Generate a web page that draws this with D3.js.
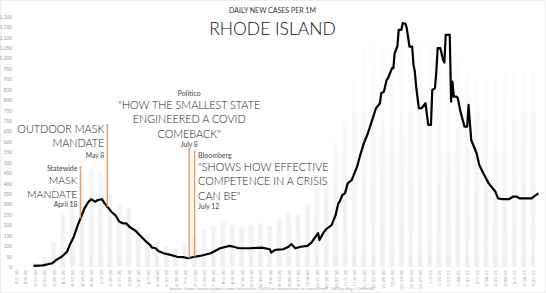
<!DOCTYPE html>
<html>
<head>
<meta charset="utf-8">
<script src="https://cdn.jsdelivr.net/npm/d3@7"></script>
<style>
  body { margin: 0; background: #fff; }
  svg { display: block; font-family: Lato, 'Open Sans', sans-serif; }
</style>
</head>
<body>
<svg id="chart" width="546" height="293"></svg>
<script>
// 14 day average, daily new cases per 1M
const dates = ['3/14/20','3/21/20','3/28/20','3/31/20','4/4/20','4/8/20','4/10/20','4/13/20','4/16/20','4/19/20',
  '4/21/20','4/24/20','4/26/20','4/29/20','5/1/20','5/4/20','5/6/20','5/9/20','5/11/20','5/14/20',
  '5/17/20','5/20/20','5/22/20','5/25/20','5/29/20','6/1/20','6/6/20','6/9/20','6/10/20','6/13/20',
  '6/15/20','6/19/20','6/24/20','6/29/20','7/4/20','7/7/20','7/12/20','7/16/20','7/24/20','7/31/20',
  '8/7/20','8/10/20','8/14/20','8/22/20','8/31/20','9/6/20','9/7/20','9/10/20','9/16/20','9/20/20',
  '9/22/20','9/25/20','9/29/20','10/4/20','10/7/20','10/10/20','10/12/20','10/13/20','10/16/20','10/18/20',
  '10/22/20','10/25/20','10/27/20','10/28/20','10/30/20','11/1/20','11/3/20','11/6/20','11/10/20','11/12/20',
  '11/15/20','11/16/20','11/18/20','11/20/20','11/22/20','11/24/20','11/27/20','11/28/20','11/30/20','12/2/20',
  '12/3/20','12/6/20','12/7/20','12/8/20','12/10/20','12/11/20','12/13/20','12/14/20','12/16/20','12/17/20',
  '12/19/20','12/21/20','12/22/20','12/23/20','12/24/20','12/26/20','12/28/20','12/31/20','1/1/21','1/2/21',
  '1/4/21','1/5/21','1/7/21','1/8/21','1/9/21','1/11/21','1/13/21','1/14/21','1/15/21','1/18/21',
  '1/19/21','1/20/21','1/21/21','1/23/21','1/24/21','1/26/21','1/29/21','1/31/21','2/1/21','2/3/21',
  '2/6/21','2/7/21','2/9/21','2/12/21','2/14/21','2/16/21','2/18/21','2/21/21','2/22/21','2/23/21',
  '2/26/21','3/3/21','3/6/21','3/9/21','3/11/21','3/20/21','3/22/21','3/25/21'];
const cases = [5,8,18,34,49,73,105,145,201,249,
  281,313,325,313,321,325,305,281,265,249,
  217,209,209,190,174,153,121,105,94,90,
  77,66,58,49,47,42,49,53,66,90,
  101,97,90,90,93,85,69,82,85,97,
  110,90,97,101,117,145,162,129,165,181,
  201,249,305,313,345,353,401,417,481,529,
  593,609,640,680,720,760,785,833,841,897,
  905,953,953,1025,1057,1137,1137,1169,1166,1145,
  1057,1057,969,937,865,761,761,785,729,681,
  681,849,857,937,1049,1049,993,980,1113,1113,
  793,889,817,817,809,745,673,673,777,609,
  561,545,489,449,425,401,385,361,345,329,
  325,325,337,337,329,329,340,353];

// faint background bars: highest daily report of each week
const barWeeks = ['3/1/20','3/8/20','3/15/20','3/22/20','3/29/20','4/5/20','4/12/20','4/19/20','4/26/20','5/3/20',
  '5/10/20','5/17/20','5/24/20','5/31/20','6/7/20','6/14/20','6/21/20','6/28/20','7/5/20','7/12/20',
  '7/19/20','7/26/20','8/2/20','8/9/20','8/16/20','8/23/20','8/30/20','9/6/20','9/13/20','9/20/20',
  '9/27/20','10/4/20','10/11/20','10/18/20','10/25/20','11/1/20','11/8/20','11/15/20','11/22/20','11/29/20',
  '12/6/20','12/13/20','12/20/20','12/27/20','1/3/21','1/10/21','1/17/21','1/24/21','1/31/21','2/7/21',
  '2/14/21','2/21/21','2/28/21','3/7/21','3/14/21','3/21/21'];
const barValues = [0,5,20,50,120,250,380,450,470,450,
  350,300,280,200,160,120,100,90,110,150,
  180,200,220,200,190,200,210,200,230,260,
  250,300,380,420,600,700,900,1050,1150,1250,
  1250,1250,1200,1100,1200,1250,1100,1000,950,900,
  900,900,950,950,950,950];

const yTicks = [0,50,100,150,200,250,300,350,400,450,500,550,600,650,700,750,800,850,900,950,1000,1050,1100,1150,1200];

const parse = d3.timeParse('%-m/%-d/%y');
const fmt = d3.timeFormat('%-m/%-d/%y');
const series = dates.map((d, i) => ({ date: parse(d), value: cases[i] }));

const svg = d3.select('svg#chart');
const x = d3.scaleTime()
  .domain([parse('3/1/20'), parse('3/21/21')])
  .range([16, 533]);
const y = d3.scaleLinear()
  .domain([0, 1200])
  .range([267, 16.7]);

// frame
svg.append('rect')
  .attr('x', 0.5).attr('y', 0.5).attr('width', 545).attr('height', 292)
  .attr('fill', '#fff').attr('stroke', '#eeeeee');

const grad = svg.append('defs').append('linearGradient')
  .attr('id', 'barFill')
  .attr('gradientUnits', 'userSpaceOnUse')
  .attr('x1', 0).attr('x2', 0).attr('y1', y(1200)).attr('y2', y(0));
grad.append('stop').attr('offset', 0).attr('stop-color', '#ffffff');
grad.append('stop').attr('offset', 1).attr('stop-color', '#f0f0f0');

const weekW = x(parse('3/8/20')) - x(parse('3/1/20'));
svg.append('g').selectAll('rect').data(barWeeks)
  .enter().append('rect')
    .attr('x', d => x(parse(d)) - weekW * 0.25)
    .attr('width', weekW * 0.5)
    .attr('y', (d, i) => y(barValues[i]))
    .attr('height', (d, i) => y(0) - y(barValues[i]))
    .attr('fill', 'url(#barFill)');

// y axis
const yAxis = svg.append('g')
  .attr('transform', 'translate(12,0)')
  .call(d3.axisLeft(y).tickValues(yTicks).tickSize(0).tickPadding(0));
yAxis.select('.domain').remove();
yAxis.selectAll('text')
  .attr('fill', '#999').style('font-size', '4.8px').style('font-family', 'Lato, sans-serif');

// x axis
const xAxis = svg.append('g')
  .attr('transform', 'translate(0,270)')
  .call(d3.axisBottom(x).ticks(d3.timeWeek.every(1)).tickFormat(fmt).tickSize(0).tickPadding(0));
xAxis.select('.domain').remove();
xAxis.selectAll('text')
  .attr('transform', 'rotate(-90)')
  .attr('text-anchor', 'end')
  .attr('dx', 0).attr('dy', '0.32em').attr('x', 0).attr('y', 0)
  .attr('fill', '#999').style('font-size', '4.4px').style('font-family', 'Lato, sans-serif');

// line
const line = d3.line()
  .x(d => x(d.date))
  .y(d => y(d.value));
svg.append('path')
  .datum(series)
  .attr('d', line)
  .attr('fill', 'none')
  .attr('stroke', '#000')
  .attr('stroke-width', 2.2)
  .attr('stroke-linejoin', 'round');

// value on the curve at a given date
const valueAt = (date) => {
  const i = d3.bisector(d => d.date).left(series, date);
  const a = series[i - 1], b = series[i];
  const t = (date - a.date) / (b.date - a.date);
  return a.value + (b.value - a.value) * t;
};

// annotations
const notes = [
  { date: '4/18/20', top: 167, anchor: 'end', dx: -3, lines: [
      ['Statewide', 7, 170.5], ['MASK', 10.5, 183.5], ['MANDATE', 10.5, 197.5], ['April 18', 6.8, 206.5]] },
  { date: '5/8/20', top: 125, anchor: 'end', dx: -3, lines: [
      ['OUTDOOR MASK', 10.8, 133], ['MANDATE', 10.8, 147], ['May 8', 6.8, 157.5]] },
  { date: '7/8/20', top: 149, anchor: 'middle', dx: 0, lines: [
      ['Politico', 7, 95.5], ['"HOW THE SMALLEST STATE', 10.8, 108.5], ['ENGINEERED A COVID', 10.8, 123],
      ['COMEBACK"', 10.8, 137.5], ['July 8', 6.8, 146.5]] },
  { date: '7/12/20', top: 152, anchor: 'start', dx: 3.5, lines: [
      ['Bloomberg', 7, 157.5], ['"SHOWS HOW EFFECTIVE', 10.8, 171], ['COMPETENCE IN A CRISIS', 10.8, 185],
      ['CAN BE"', 10.8, 199.5], ['July 12', 6.8, 208.5]] }
];

notes.forEach(n => {
  const d = parse(n.date);
  const nx = x(d);
  const g = svg.append('g');
  g.append('line')
    .attr('x1', nx).attr('x2', nx)
    .attr('y1', n.top).attr('y2', y(valueAt(d)))
    .attr('stroke', '#ee9a5e').attr('stroke-width', 1.4);
  g.append('circle')
    .attr('cx', nx).attr('cy', n.top).attr('r', 1.1)
    .attr('fill', '#ee9a5e');
  g.selectAll('text').data(n.lines)
    .enter().append('text')
      .attr('x', nx + n.dx)
      .attr('y', l => l[2])
      .attr('text-anchor', n.anchor)
      .attr('fill', l => l[1] > 8 ? '#1a1a1a' : '#444')
      .style('font-size', l => l[1] + 'px')
      .style('font-weight', l => l[1] > 8 ? 300 : 400)
      .text(l => l[0]);
});

// titles
svg.append('text')
  .attr('x', 272.5).attr('y', 13)
  .attr('text-anchor', 'middle')
  .attr('fill', '#333')
  .style('font-size', '7px')
  .text('DAILY NEW CASES PER 1M');
svg.append('text')
  .attr('x', 272.5).attr('y', 35)
  .attr('text-anchor', 'middle')
  .attr('fill', '#111')
  .style('font-size', '17.5px')
  .style('font-weight', 300)
  .text('RHODE ISLAND');

svg.append('text')
  .attr('x', 272).attr('y', 290)
  .attr('text-anchor', 'middle')
  .attr('fill', '#aaa')
  .style('font-size', '4.4px')
  .text('Source: https://www.nytimes.com/interactive/2020/us/coronavirus-us-cases.html?, 14 Day Avg / @bfrmSC');
</script>
</body>
</html>
